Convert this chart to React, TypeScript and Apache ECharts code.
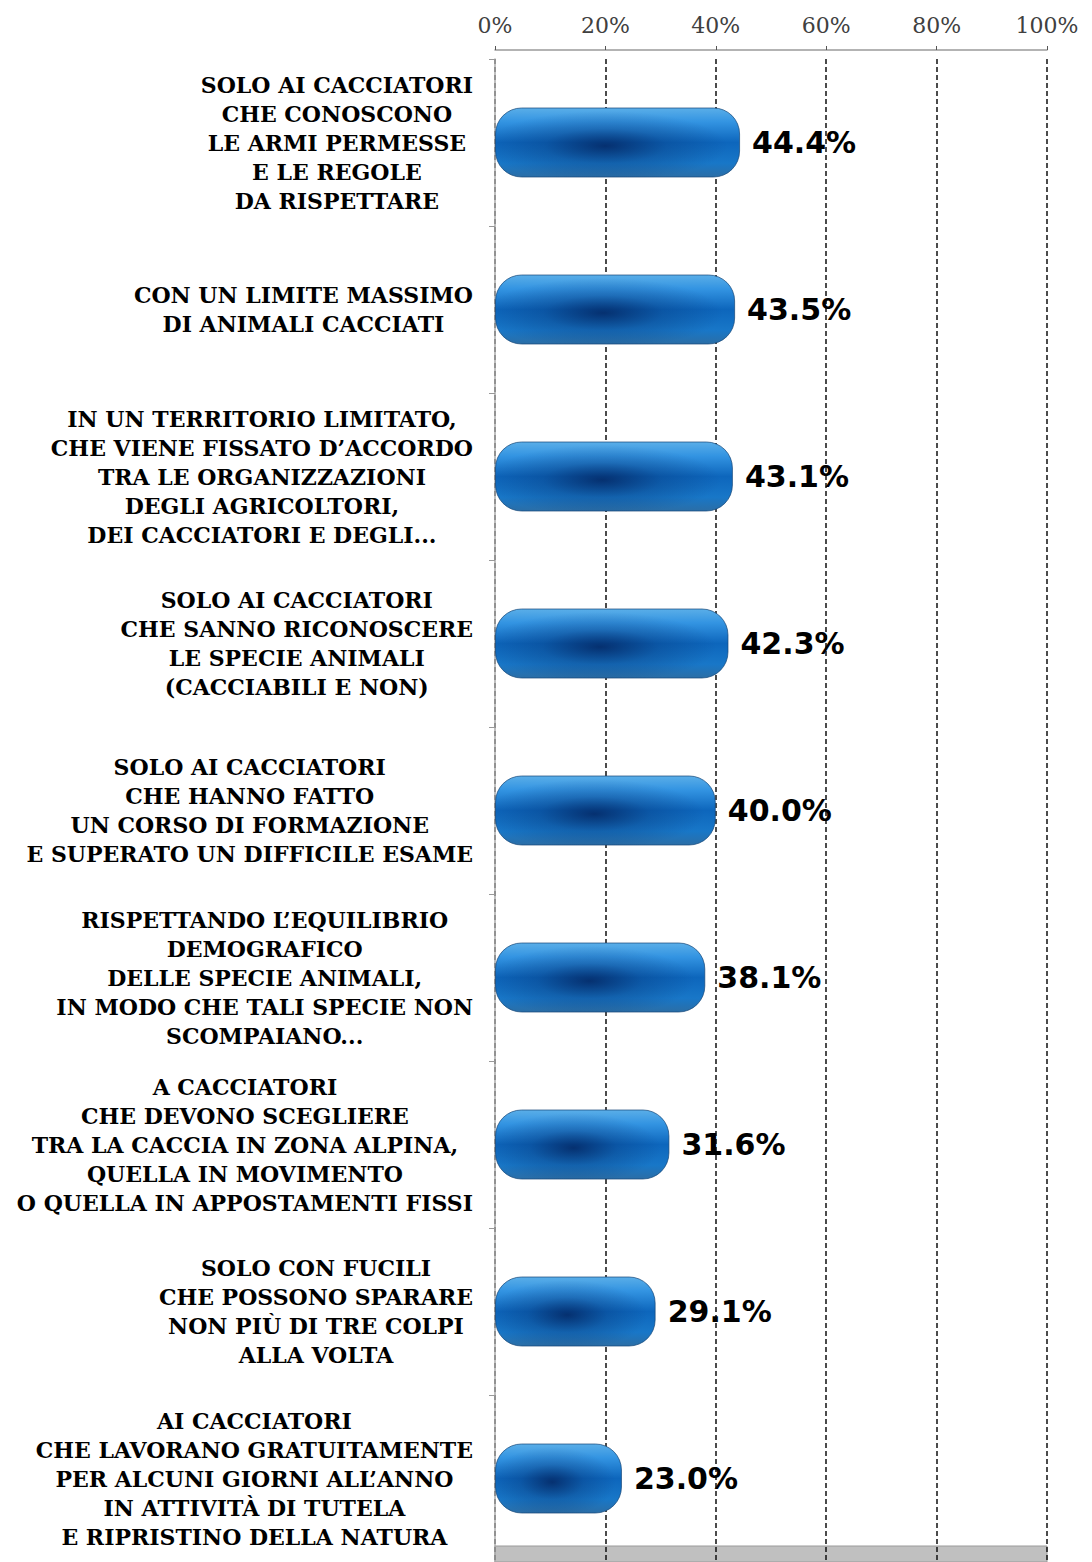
import React, { useEffect, useRef } from "react";
import * as echarts from "echarts";

const categories: string[] = [
  "SOLO AI CACCIATORI\nCHE CONOSCONO\nLE ARMI PERMESSE\nE LE REGOLE\nDA RISPETTARE",
  "CON UN LIMITE MASSIMO\nDI ANIMALI CACCIATI",
  "IN UN TERRITORIO LIMITATO,\nCHE VIENE FISSATO D\u2019ACCORDO\nTRA LE ORGANIZZAZIONI\nDEGLI AGRICOLTORI,\nDEI CACCIATORI E DEGLI...",
  "SOLO AI CACCIATORI\nCHE SANNO RICONOSCERE\nLE SPECIE ANIMALI\n(CACCIABILI E NON)",
  "SOLO AI CACCIATORI\nCHE HANNO FATTO\nUN CORSO DI FORMAZIONE\nE SUPERATO UN DIFFICILE ESAME",
  "RISPETTANDO L\u2019EQUILIBRIO\nDEMOGRAFICO\nDELLE SPECIE ANIMALI,\nIN MODO CHE TALI SPECIE NON\nSCOMPAIANO...",
  "A CACCIATORI\nCHE DEVONO SCEGLIERE\nTRA LA CACCIA IN ZONA ALPINA,\nQUELLA IN MOVIMENTO\nO QUELLA IN APPOSTAMENTI FISSI",
  "SOLO CON FUCILI\nCHE POSSONO SPARARE\nNON PI\u00d9 DI TRE COLPI\nALLA VOLTA",
  "AI CACCIATORI\nCHE LAVORANO GRATUITAMENTE\nPER ALCUNI GIORNI ALL\u2019ANNO\nIN ATTIVIT\u00c0 DI TUTELA\nE RIPRISTINO DELLA NATURA",
];

const values: number[] = [44.4, 43.5, 43.1, 42.3, 40.0, 38.1, 31.6, 29.1, 23.0];

const axisMin = 0;
const axisMax = 100;
const axisInterval = 20;

export default function App() {
  const ref = useRef<HTMLDivElement>(null);

  useEffect(() => {
    document.body.style.margin = "0";
    if (!ref.current) return;
    const chart = echarts.init(ref.current, undefined, { renderer: "svg" });

    const baseFill = new echarts.graphic.LinearGradient(0, 0, 0, 1, [
      { offset: 0, color: "#5aaee8" },
      { offset: 0.2, color: "#3394e2" },
      { offset: 0.5, color: "#0d66bc" },
      { offset: 0.8, color: "#1877c8" },
      { offset: 1, color: "#2b6ea6" },
    ]);
    const overlayFill = {
      type: "radial",
      x: 0.45,
      y: 0.55,
      r: 0.5,
      colorStops: [
        { offset: 0, color: "rgba(0,18,70,0.65)" },
        { offset: 0.5, color: "rgba(0,25,80,0.22)" },
        { offset: 1, color: "rgba(0,25,80,0)" },
      ],
    };

    chart.setOption({
      animation: false,
      backgroundColor: "#ffffff",
      grid: { left: 495, right: 45, top: 59, height: 1513, containLabel: false },
      graphic: [
        {
          type: "rect",
          z: -10,
          shape: { x: 495, y: 1546, width: 552, height: 16 },
          style: { fill: "#c0c0c0", stroke: "#9a9a9a", lineWidth: 1 },
        },
      ],
      xAxis: {
        type: "value",
        position: "top",
        offset: 9,
        min: axisMin,
        max: axisMax,
        interval: axisInterval,
        axisLine: { show: true, lineStyle: { color: "#9a9a9a", width: 1.5 } },
        axisTick: { show: true, length: 4, lineStyle: { color: "#555" } },
        axisLabel: {
          formatter: "{value}%",
          fontFamily: "DejaVu Serif",
          fontSize: 22,
          color: "#404040",
          margin: 14,
        },
        splitLine: {
          show: true,
          lineStyle: { color: "#111", type: [5, 3], width: 1.5 },
        },
      },
      yAxis: {
        type: "category",
        inverse: true,
        data: categories,
        axisLine: { show: true, lineStyle: { color: "#aaaaaa", width: 1.5 } },
        axisTick: { show: true, length: 6, lineStyle: { color: "#999" } },
        axisLabel: {
          margin: 22,
          formatter: (v: string) =>
            v
              .split("\n")
              .map((l) => `{c|${l}}`)
              .join("\n"),
          rich: {
            c: {
              align: "center",
              fontFamily: "DejaVu Serif",
              fontWeight: "bold",
              fontSize: 22,
              lineHeight: 29,
              color: "#000",
            },
          },
        },
        splitLine: { show: false },
      },
      series: [
        {
          type: "bar",
          data: values,
          barWidth: 70,
          z: 2,
          itemStyle: {
            color: baseFill,
            borderRadius: 26,
            borderColor: "rgba(20,70,120,0.7)",
            borderWidth: 1,
          },
          label: {
            show: true,
            position: "right",
            distance: 12,
            formatter: (p: any) => `${Number(p.value).toFixed(1)}%`,
            fontFamily: "DejaVu Sans",
            fontWeight: "bold",
            fontSize: 30,
            color: "#000",
          },
        },
        {
          type: "bar",
          data: values,
          barWidth: 70,
          barGap: "-100%",
          z: 3,
          silent: true,
          itemStyle: { color: overlayFill, borderRadius: 26 },
          label: { show: false },
        },
      ],
    });

    return () => chart.dispose();
  }, []);

  return <div ref={ref} style={{ width: 1092, height: 1562 }} />;
}
